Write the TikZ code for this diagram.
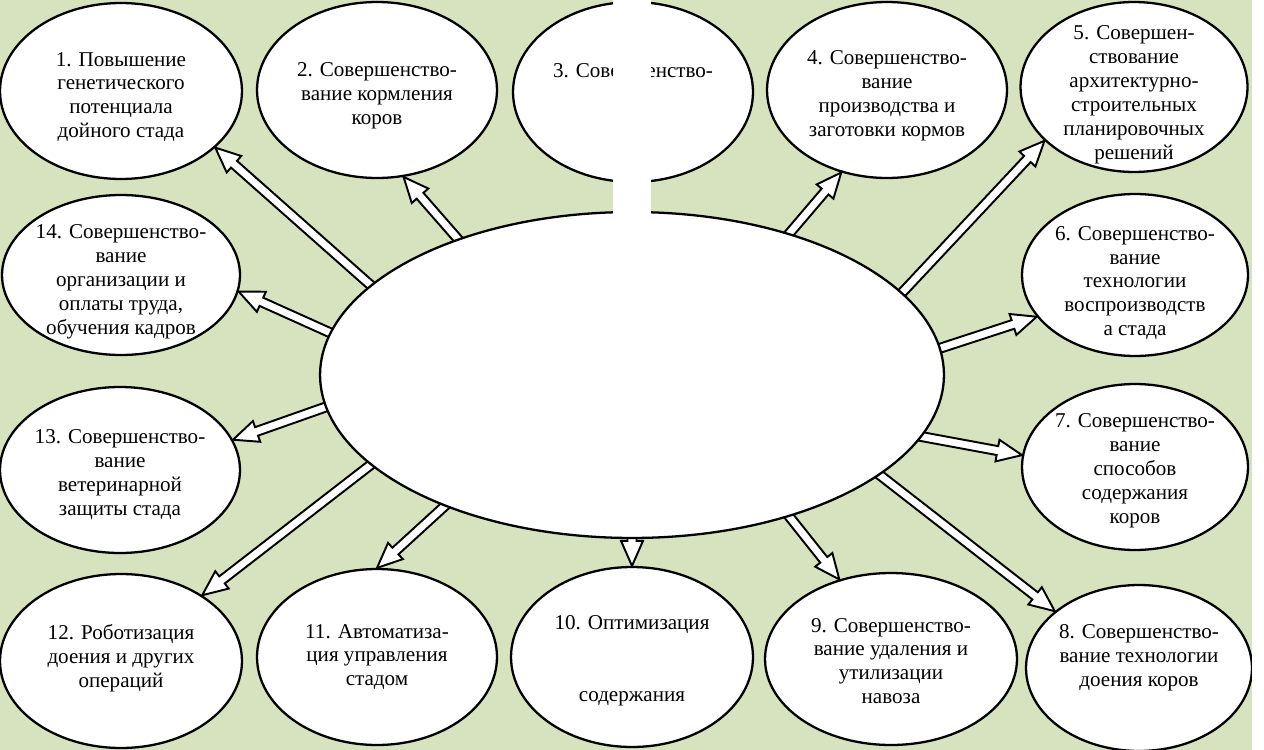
\documentclass[tikz,border=0pt]{standalone}
\usepackage{fontspec}
\setmainfont{Liberation Serif}
\usetikzlibrary{shapes.geometric,calc}
\definecolor{bg}{HTML}{D7E3BE}
\pgfdeclarelayer{front}
\pgfsetlayers{main,front}
\tikzset{
  ell/.style={ellipse, draw=black, fill=white, line width=1.3pt, inner sep=0pt},
  txt/.style={align=center, font=\fontsize{12}{13.6}\selectfont, inner sep=0pt, text=black},
  harrow/.style={draw=black, fill=white, line width=1.1pt, line join=miter},
}
\newcommand\ellnode[7][6]{%
  \node[ell, minimum width=#5cm, minimum height=#6cm] (#2) at (#3,#4) {};
  \node[txt] (#2t) at ($(#2)+(0,#1)$) {#7};}
\newcommand\hollow[2]{%
  \path (#1) coordinate (ha) (#2) coordinate (hb);
  \path ($(ha)!-0.2cm!(hb)$) coordinate (hs) ($(hb)!0.5cm!(ha)$) coordinate (hm);
  \draw[harrow] ($(hs)!0.09cm!90:(hb)$) -- ($(hm)!0.09cm!90:(hb)$) -- ($(hm)!0.22cm!90:(hb)$)
    -- (hb) -- ($(hm)!0.22cm!-90:(hb)$) -- ($(hm)!0.09cm!-90:(hb)$) -- ($(hs)!0.09cm!-90:(hb)$) -- cycle;}
\begin{document}
\begin{tikzpicture}[x=0.02cm,y=-0.02cm]
\fill[bg] (0,0) rectangle (1264,750);
\useasboundingbox (0,0) rectangle (1264,750);

\ellnode{e1}{121}{91}{4.84}{3.52}{1. Повышение\\генетического\\потенциала\\дойного стада}
\ellnode{e2}{377}{90}{4.8}{3.52}{2. Совершенство-\\вание кормления\\коров}
\ellnode[2]{e3}{633}{92}{4.8}{3.6}{3. Совершенство-\\\mbox{}\\\mbox{}}
\ellnode{e4}{887}{90}{4.8}{3.52}{4. Совершенство-\\вание\\производства и\\заготовки кормов}
\ellnode[8]{e5}{1134}{87}{4.54}{3.4}{5. Совершен-\\ствование\\архитектурно-\\строительных\\планировочных\\решений}
\ellnode[8]{e6}{1135}{275}{4.52}{3.24}{6. Совершенство-\\вание\\технологии\\воспроизводств\\а стада}
\ellnode[4]{e7}{1135}{467}{4.52}{3.32}{7. Совершенство-\\вание\\способов\\содержания\\коров}
\ellnode[-10]{e8}{1139}{668}{4.52}{3.32}{8. Совершенство-\\вание технологии\\доения коров}
\ellnode[2]{e9}{891}{659}{5.04}{3.44}{9. Совершенство-\\вание удаления и\\утилизации\\навоза}
\ellnode[4]{e10}{632}{657}{4.84}{3.6}{10. Оптимизация\\\mbox{}\\\mbox{}\\содержания}
\ellnode[0]{e11}{377}{657}{4.8}{3.52}{11. Автоматиза-\\ция управления\\стадом}
\ellnode[-3]{e12}{121}{661}{4.84}{3.48}{12. Роботизация\\доения и других\\операций}
\ellnode[5]{e13}{120}{470}{4.8}{3.32}{13. Совершенство-\\вание\\ветеринарной\\защиты стада}
\ellnode[7]{e14}{121}{275}{4.76}{3.2}{14. Совершенство-\\вание\\организации и\\оплаты труда,\\обучения кадров}

\begin{pgfonlayer}{front}
\node[ell, minimum width=12.48cm, minimum height=6.52cm] (c) at (632,375) {};
\fill[white] (613,0) rectangle (651,216);
\fill[white] (1252,0) rectangle (1264,750);
\end{pgfonlayer}

\hollow{c.161.2}{e1.-31}
\hollow{c.142.7}{e2.-73.5}
\hollow{c.42.5}{e4.-119.8}
\hollow{c.17.6}{e5.-149}
\hollow{c.5.6}{e6.203.7}
\hollow{c.-12.3}{e7.174}
\hollow{c.-22.7}{e8.146.6}
\hollow{c.-42.9}{e9.123.2}
\hollow{c.-90}{e10.90}
\hollow{c.-145.9}{e11.90}
\hollow{c.-161.8}{e12.39.5}
\hollow{c.-174.4}{e13.15.8}
\hollow{c.172.8}{e14.-8.4}
\end{tikzpicture}
\end{document}
